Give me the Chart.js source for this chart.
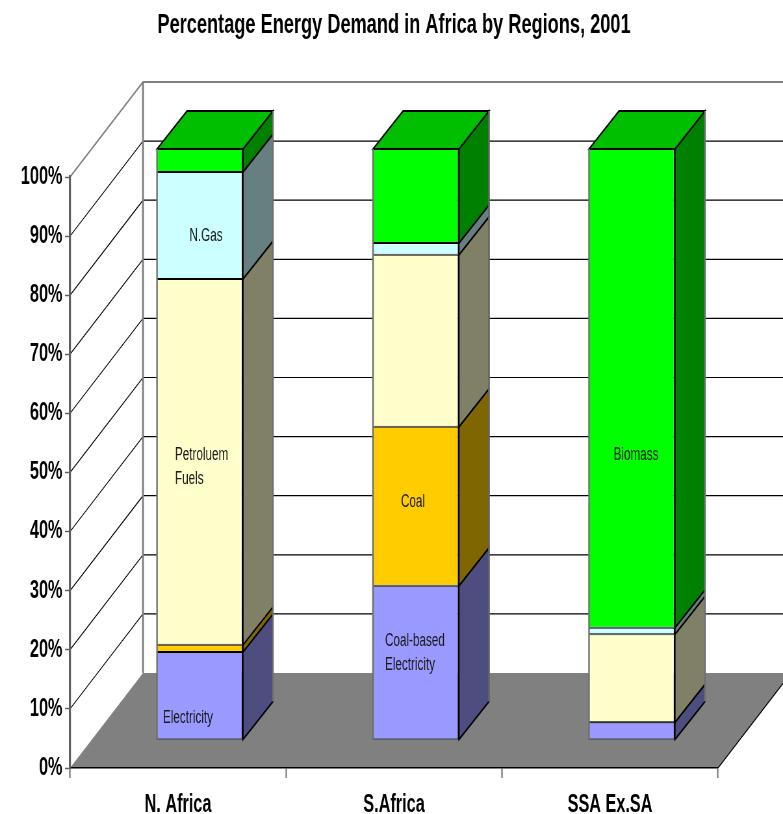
<!DOCTYPE html>
<html>
<head>
<meta charset="utf-8">
<title>Percentage Energy Demand in Africa by Regions, 2001</title>
<script src="https://cdn.jsdelivr.net/npm/chart.js@4"></script>
<style>
  html, body { margin: 0; padding: 0; background: #fff; }
  /* The drawing surface is wider than the window and condensed to fit, giving narrow lettering. */
  #chart { display: block; width: 783px !important; height: 814px !important; }
</style>
</head>
<body>
<canvas id="chart" width="1205" height="814"></canvas>
<script>
const regions = ["N. Africa", "S.Africa", "SSA Ex.SA"];
const electricity = [14.9, 26.1, 3.0];
const coal = [1.2, 26.9, 0];
const petroleum = [61.9, 29.1, 14.9];
const naturalGas = [18.1, 2.0, 1.1];
const biomass = [3.9, 15.9, 81.0];
const yTicks = [0, 10, 20, 30, 40, 50, 60, 70, 80, 90, 100];

const FONT = '"Liberation Sans", Arial, sans-serif';
const SQUEEZE = 783 / 1205;       // horizontal condensing of the surface
const sx = v => v / SQUEEZE;      // window px to surface px, horizontally
const WALL = { dx: sx(73), dy: 95 };   // depth of the whole plot box
const BAR_SHIFT = { dx: sx(22), dy: 28 }; // bars stand this far into the box
const BAR_DEPTH = { dx: sx(30), dy: 38 }; // depth of each column

// Text written on the front faces: [text line, window x, y, align]
const faceNotes = [
  ["N.Gas", 206, 236, "center"],
  ["Petroluem", 175, 455, "left"],
  ["Fuels", 175, 479, "left"],
  ["Coal", 413, 502, "center"],
  ["Biomass", 636, 455, "center"],
  ["Coal-based", 385, 641, "left"],
  ["Electricity", 385, 665, "left"],
  ["Electricity", 163, 718, "left"]
];

function series(label, data, front, side) {
  return {
    label, data, side,
    backgroundColor: front,
    borderColor: "#000",
    borderWidth: { top: 1, bottom: 1, left: 0, right: 2 },
    borderSkipped: false,
    clip: false
  };
}

const box3d = {
  id: "box3d",
  beforeDraw(chart) {
    const { ctx, chartArea: a, scales: { y } } = chart;
    const bottom = y.getPixelForValue(0);
    ctx.save();
    // floor of the box
    ctx.fillStyle = "#808080";
    ctx.beginPath();
    ctx.moveTo(a.left, bottom);
    ctx.lineTo(a.left + WALL.dx, bottom - WALL.dy);
    ctx.lineTo(a.right + WALL.dx, bottom - WALL.dy);
    ctx.lineTo(a.right, bottom);
    ctx.closePath();
    ctx.fill();
    ctx.strokeStyle = "#000";
    ctx.lineWidth = 1.3;
    ctx.beginPath();
    ctx.moveTo(a.right, bottom);
    ctx.lineTo(a.right + WALL.dx, bottom - WALL.dy);
    ctx.stroke();
    // left wall diagonals and back wall rules
    yTicks.forEach(v => {
      if (v === 0) return;
      const py = y.getPixelForValue(v);
      const top = v === yTicks[yTicks.length - 1];
      ctx.strokeStyle = top ? "#808080" : "#000";
      ctx.lineWidth = top ? 1.8 : 1.2;
      ctx.beginPath();
      ctx.moveTo(a.left, py);
      ctx.lineTo(a.left + WALL.dx, py - WALL.dy);
      ctx.lineTo(chart.width, py - WALL.dy);
      ctx.stroke();
    });
    // back corner of the two walls
    ctx.strokeStyle = "#808080";
    ctx.lineWidth = 3;
    ctx.beginPath();
    ctx.moveTo(a.left + WALL.dx, a.top - WALL.dy);
    ctx.lineTo(a.left + WALL.dx, bottom - WALL.dy);
    ctx.stroke();
    ctx.restore();
  },
  beforeDatasetsDraw(chart) {
    const { ctx } = chart;
    ctx.save();
    ctx.translate(BAR_SHIFT.dx, -BAR_SHIFT.dy);
    const { dx, dy } = BAR_DEPTH;
    const metas = chart.getSortedVisibleDatasetMetas();
    metas.forEach(meta => {
      const ds = chart.data.datasets[meta.index];
      meta.data.forEach(el => {
        if (Math.abs(el.base - el.y) < 0.5) return;
        const r = el.x + el.width / 2;
        ctx.fillStyle = ds.side;
        ctx.strokeStyle = "#000";
        ctx.lineWidth = 1.8;
        ctx.beginPath();
        ctx.moveTo(r, el.y);
        ctx.lineTo(r + dx, el.y - dy);
        ctx.lineTo(r + dx, el.base - dy);
        ctx.lineTo(r, el.base);
        ctx.closePath();
        ctx.fill();
        ctx.stroke();
      });
    });
    // lid on each column
    const topMeta = metas[metas.length - 1];
    topMeta.data.forEach(el => {
      const l = el.x - el.width / 2, r = el.x + el.width / 2;
      ctx.fillStyle = "#00bf00";
      ctx.strokeStyle = "#000";
      ctx.lineWidth = 1.8;
      ctx.beginPath();
      ctx.moveTo(l, el.y);
      ctx.lineTo(l + dx, el.y - dy);
      ctx.lineTo(r + dx, el.y - dy);
      ctx.lineTo(r, el.y);
      ctx.closePath();
      ctx.fill();
      ctx.stroke();
    });
  },
  afterDatasetsDraw(chart) {
    const { ctx } = chart;
    const { dx, dy } = BAR_DEPTH;
    // soft grey outer edges of the columns
    const metas = chart.getSortedVisibleDatasetMetas();
    const first = metas[0], last = metas[metas.length - 1];
    first.data.forEach((el, i) => {
      const l = el.x - el.width / 2, r = el.x + el.width / 2;
      const top = last.data[i].y;
      ctx.strokeStyle = "#707070";
      ctx.lineWidth = 2.4;
      ctx.beginPath();
      ctx.moveTo(l, top);
      ctx.lineTo(l, el.base);
      ctx.moveTo(r + dx, top - dy);
      ctx.lineTo(r + dx, el.base - dy);
      ctx.stroke();
    });
    ctx.restore();
    ctx.save();
    ctx.fillStyle = "#1a1a1a";
    ctx.font = "18px " + FONT;
    ctx.textBaseline = "middle";
    faceNotes.forEach(([text, x, y, align]) => {
      ctx.textAlign = align;
      ctx.fillText(text, sx(x), y);
    });
    ctx.restore();
  }
};

new Chart(document.getElementById("chart"), {
  type: "bar",
  data: {
    labels: regions,
    datasets: [
      series("Electricity", electricity, "#9999ff", "#4d4d80"),
      series("Coal", coal, "#ffcc00", "#806600"),
      series("Petroleum Fuels", petroleum, "#ffffcc", "#808066"),
      series("N.Gas", naturalGas, "#ccffff", "#668080"),
      series("Biomass", biomass, "#00ff00", "#008000")
    ]
  },
  options: {
    responsive: false,
    animation: false,
    devicePixelRatio: 1,
    barPercentage: 0.398,
    categoryPercentage: 1,
    layout: { padding: { right: sx(783 - 718), top: 0, bottom: 0, left: 0 } },
    plugins: {
      legend: { display: false },
      tooltip: { enabled: false },
      title: {
        display: true,
        fullSize: false,
        text: "Percentage Energy Demand in Africa by Regions, 2001",
        color: "#000",
        font: { family: FONT, weight: "bold", size: 28, lineHeight: 1.2 },
        padding: { top: 8, bottom: 135.4 }
      }
    },
    scales: {
      x: {
        stacked: true,
        afterFit(scale) { scale.height = 46; },
        grid: { drawOnChartArea: false, tickLength: 10, tickColor: "#808080", tickWidth: 2.4, offset: true },
        border: { color: "#000", width: 1.6 },
        ticks: { color: "#000", padding: 12, maxRotation: 0, font: { family: FONT, weight: "bold", size: 25 } }
      },
      y: {
        stacked: true,
        min: 0,
        max: 100,
        afterFit(scale) { scale.width = sx(70); },
        grid: { drawOnChartArea: false, tickLength: sx(5), tickColor: "#606060", tickWidth: 1.5 },
        border: { color: "#606060", width: 3.2 },
        afterBuildTicks(scale) { scale.ticks = yTicks.map(value => ({ value })); },
        ticks: { color: "#000", padding: 4, callback: v => v + "%", font: { family: FONT, weight: "bold", size: 25 } }
      }
    }
  },
  plugins: [box3d]
});
</script>
</body>
</html>
